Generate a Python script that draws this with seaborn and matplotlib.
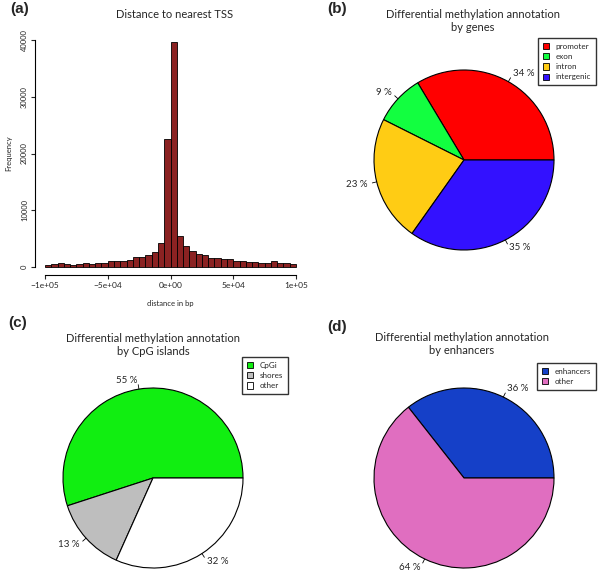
import numpy as np
import pandas as pd
import matplotlib
matplotlib.use("Agg")
import matplotlib.pyplot as plt
import seaborn as sns
from matplotlib.patches import Patch

# === Data ===
# (a) histogram of distance to nearest TSS, 5 kb bins from -1e5 to 1e5
bin_centers = np.arange(-97500, 100000, 5000)
tss_counts = [300, 400, 600, 400, 350, 500, 650, 500, 650, 700,
              950, 1000, 1000, 1200, 1650, 1650, 2000, 2550, 4250, 22500,
              39700, 5400, 3600, 2700, 2250, 2050, 1550, 1550, 1300, 1250,
              1000, 950, 800, 800, 650, 650, 900, 600, 600, 500]

# (b) genes
gene_labels = ["promoter", "exon", "intron", "intergenic"]
gene_pct = [33.6, 9.0, 22.6, 34.8]
gene_colors = ["#FF0000", "#12FF40", "#FFCC14", "#3311FF"]

# (c) CpG islands
cpg_labels = ["CpGi", "shores", "other"]
cpg_pct = [55.0, 13.3, 31.7]
cpg_colors = ["#11EE11", "#BEBEBE", "#FFFFFF"]

# (d) enhancers
enh_labels = ["enhancers", "other"]
enh_pct = [35.6, 64.4]
enh_colors = ["#1540C8", "#E06EC0"]

sns.set_style("white")
plt.rcParams["font.family"] = ["Lato", "DejaVu Sans"]

W, H = 600, 572
fig = plt.figure(figsize=(W / 100, H / 100), dpi=100)


def px_axes(x0, y0, x1, y1):
    return fig.add_axes([x0 / W, 1 - y1 / H, (x1 - x0) / W, (y1 - y0) / H])


# === (a) histogram ===
ax = px_axes(35, 32, 306, 275)
tss = pd.DataFrame({"distance": bin_centers, "count": tss_counts})
sns.histplot(data=tss, x="distance", weights="count", binwidth=5000,
             binrange=(-100000, 100000), color="#8B2222",
             edgecolor="black", linewidth=0.6, alpha=1, ax=ax)
ax.set_xlim(-108000, 108000)
ax.set_ylim(-1500, 41500)
for s in ["top", "right"]:
    ax.spines[s].set_visible(False)
ax.spines["left"].set_bounds(0, 40000)
ax.spines["bottom"].set_bounds(-100000, 100000)
for s in ["left", "bottom"]:
    ax.spines[s].set_linewidth(0.8)
    ax.spines[s].set_color("black")
ax.set_xticks([-100000, -50000, 0, 50000, 100000])
ax.set_xticklabels(["\u22121e+05", "\u22125e+04", "0e+00", "5e+04", "1e+05"], fontsize=6)
ax.set_yticks([0, 10000, 20000, 30000, 40000])
ax.set_yticklabels(["0", "10000", "20000", "30000", "40000"], fontsize=5.5,
                   rotation=90, va="center")
ax.tick_params(direction="out", length=3, width=0.8, pad=2, left=True, bottom=True)
ax.set_xlabel("distance in bp", fontsize=5.5, labelpad=8)
ax.set_ylabel("Frequency", fontsize=5.5, labelpad=6)
fig.text(175 / W, 1 - 14 / H, "Distance to nearest TSS", ha="center", va="center", fontsize=8)


# === pies ===
def draw_pie(cx, cy, values, colors, labels, title_xy, leg_xy):
    R = 90
    m = 1.35
    pax = px_axes(cx - R * m, cy - R * m, cx + R * m, cy + R * m)
    pax.pie(values, colors=colors, startangle=0, counterclock=True, radius=1,
            wedgeprops=dict(edgecolor="black", linewidth=0.8))
    pax.set_xlim(-m, m)
    pax.set_ylim(-m, m)
    pax.set_aspect("equal")
    pax.axis("off")
    total = sum(values)
    start = 0.0
    for v in values:
        mid = np.deg2rad(start + v / total * 180)
        start += v / total * 360
        c, s = np.cos(mid), np.sin(mid)
        pax.plot([c, 1.05 * c], [s, 1.05 * s], color="black", lw=0.6)
        pax.text(1.1 * c, 1.1 * s, f"{round(v)} %", fontsize=7,
                 ha="left" if c >= 0 else "right", va="center")
    tx, ty, ttl = title_xy
    fig.text(tx / W, 1 - ty / H, ttl, ha="center", va="center", fontsize=8,
             linespacing=1.25)
    handles = [Patch(facecolor=col, edgecolor="black", linewidth=0.6) for col in colors]
    fig.legend(handles, labels, loc="upper right",
               bbox_to_anchor=(leg_xy[0] / W, 1 - leg_xy[1] / H),
               fontsize=5.8, frameon=True, fancybox=False, edgecolor="black",
               handlelength=0.8, handleheight=0.8, handletextpad=0.8,
               borderpad=0.6, labelspacing=0.4, borderaxespad=0)


draw_pie(464, 160, gene_pct, gene_colors, gene_labels,
         (473, 21, "Differential methylation annotation\nby genes"), (596, 38))
draw_pie(153, 478, cpg_pct, cpg_colors, cpg_labels,
         (153, 345, "Differential methylation annotation\nby CpG islands"), (288, 357))
draw_pie(464, 478, enh_pct, enh_colors, enh_labels,
         (462, 344, "Differential methylation annotation\nby enhancers"), (596, 363))

# panel letters
for x, y, t in [(10, 9, "(a)"), (327, 9, "(b)"), (8, 323, "(c)"), (327, 327, "(d)")]:
    fig.text(x / W, 1 - y / H, t, fontsize=11, fontweight="bold",
             family=["Liberation Sans", "DejaVu Sans"], ha="left", va="center")

fig.savefig("out.png", dpi=100)
